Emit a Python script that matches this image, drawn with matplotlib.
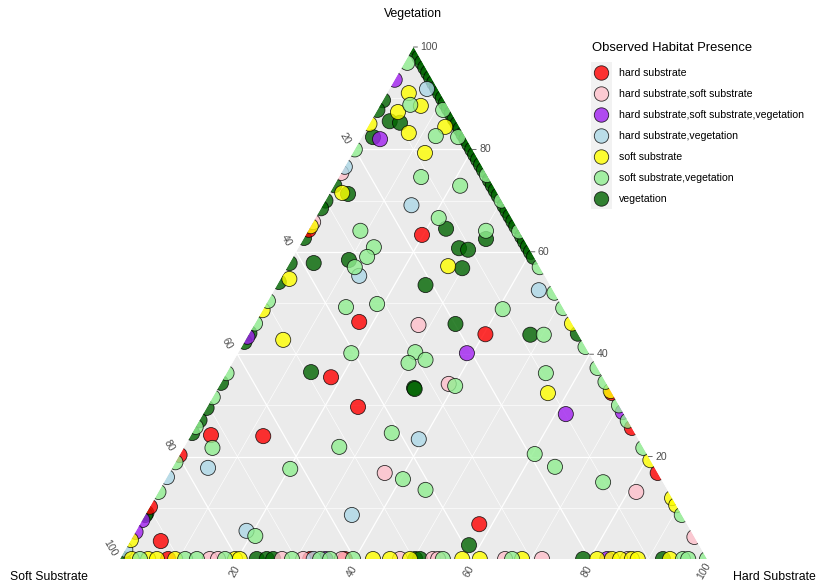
import numpy as np
import matplotlib
matplotlib.use("Agg")
import matplotlib.pyplot as plt
from matplotlib.patches import Polygon, Rectangle, Circle, PathPatch
from matplotlib.path import Path

plt.rcParams['font.family'] = ['Liberation Sans', 'DejaVu Sans']

# ---------------- data (percent: Hard substrate, Vegetation; Soft = 100 - both) -------------
categories = ["hard substrate", "hard substrate,soft substrate",
              "hard substrate,soft substrate,vegetation", "hard substrate,vegetation",
              "soft substrate", "soft substrate,vegetation", "vegetation"]
colors = ["red", "pink", "#A020F0", "lightblue", "yellow", "lightgreen", "darkgreen"]

red_hard = [19.8, 17.6, 40.3, 18.2, 25.7, 3.4, 12.4, 5.2, 57.8, 0, 0, 0, 67.6, 74.4, 83.2, 8.2, 32.4, 38.3]
red_veg = [63.3, 46.3, 43.9, 35.5, 29.7, 24.2, 24.0, 3.5, 6.8, 64.3, 20.3, 10.2, 32.4, 25.6, 16.8, 0, 0, 0]

pink_hard = [28.0, 38.9, 36.7, 81.4, 0, 0, 95.7, 15.3, 16.7, 27.6, 31.2, 37.8, 47.7, 53.3, 54.2, 65.6, 71.9, 86.5]
pink_veg = [45.7, 34.2, 16.8, 13.1, 75.4, 65.8, 4.3, 0, 0, 0, 0, 0, 0, 0, 0, 0, 0, 0]

purple_hard = [39.0, 61.8, 3.3, 0, 0, 0, 0, 71.3, 83.0, 35.0]
purple_veg = [40.2, 28.3, 82.0, 93.6, 43.4, 7.6, 5.3, 28.7, 0, 0]

lblue_hard = [6.4, 15.1, 13.1, 45.1, 39.2, 6.1, 35.2, 18.8, 0, 0, 0, 33.0]
lblue_veg = [91.8, 69.1, 55.3, 52.5, 23.4, 17.8, 8.6, 5.5, 76.6, 16.0, 1.8, 0]

yellow_hard = [3.7, 7.0, 3.7, 7.6, 13.2, 12.3, 2.1, 27.3, 1.5, 6.4, 56.7,
               0, 0, 0, 0,
               54.0, 67.2, 80.7, 88.1, 89.5,
               2.0, 4.8, 6.3, 9.4, 19.6, 20.4, 43.1, 46.0, 49.4, 58.3, 61.3, 68.5,
               81.3, 83.8, 85.2, 87.2, 88.2, 93.7]
yellow_veg = [91.0, 88.5, 87.3, 83.2, 84.4, 79.3, 71.5, 57.2, 54.7, 42.8, 32.4,
              85.0, 65.0, 48.6, 3.7,
              46.0, 32.8, 19.3, 11.9, 10.5,
              0, 0, 0, 0, 0, 0, 0, 0, 0, 0, 0, 0,
              0, 0, 0, 0, 0, 0]

lgreen_hard = [0.5, 5.1, 11.2, 12.5, 16.4, 14.0, 21.5, 21.0, 30.3, 8.9, 12.8, 12.6, 11.5,
               13.9, 18.9, 40.8, 50.3, 19.3, 30.1, 30.0, 32.6, 40.2, 54.4, 4.9, 34.0,
               26.4, 20.2, 40.4, 45.3, 20.8, 60.4, 65.1, 74.8,
               0, 0, 0, 0, 0, 0, 0, 0,
               25.0, 30.0, 36.0, 43.0, 48.0, 51.0, 58.6, 62.7, 65.4, 70.0, 73.0, 78.3, 91.4, 100.0,
               3.4, 11.1, 13.1, 17.9, 29.3, 34.1, 35.8, 39.7, 55.0, 66.8, 95.9, 96.8]
lgreen_veg = [96.9, 88.7, 87.7, 82.6, 82.4, 74.6, 72.9, 66.6, 64.1, 64.1, 60.9, 59.0, 57.0,
              49.2, 49.8, 48.8, 43.8, 40.2, 40.4, 38.3, 38.9, 33.8, 36.3, 21.7, 24.6,
              21.9, 17.6, 15.6, 13.5, 4.5, 20.5, 18.0, 15.0,
              80.0, 50.4, 46.0, 36.3, 31.6, 25.8, 18.9, 13.1,
              75.0, 70.0, 64.0, 57.0, 52.0, 49.0, 41.4, 37.3, 34.6, 30.0, 27.0, 21.7, 8.6, 0,
              0, 0, 0, 0, 0, 0, 0, 0, 0, 0, 0, 0]

dgreen_hard = [3.2, 5.1, 1.9, 3.2, 23.3, 31.1, 27.4, 29.1, 29.9, 25.3, 9.8, 4.1, 34.2, 48.0,
               14.3, 33.4, 33.6, 58.1,
               0, 0, 0, 0, 0, 0, 0, 0, 0, 0, 0, 0, 0, 0, 0, 0,
               0, 1, 2, 3, 4, 5, 6, 7, 8, 9, 10, 11, 12, 13, 14, 15, 16, 17, 18, 19, 20,
               21, 22, 23, 24, 26, 27, 28, 29, 31, 32, 33, 34, 35, 37, 38, 39, 40, 41, 56,
               0.5, 23.3, 25.0, 26.1, 50.3, 51.1, 78.9, 92.5]
dgreen_veg = [85.5, 85.2, 82.4, 71.3, 64.5, 62.5, 60.7, 60.4, 56.8, 53.5, 58.4, 57.8, 45.9, 43.8,
              36.5, 33.4, 33.2, 2.7,
              89.6, 87.7, 73.0, 70.0, 68.5, 62.7, 57.8, 54.1, 44.1, 42.4, 34.4, 29.5, 27.1, 24.6, 9.0, 8.6,
              100, 99, 98, 97, 96, 95, 94, 93, 92, 91, 90, 89, 88, 87, 86, 85, 84, 83, 82, 81, 80,
              79, 78, 77, 76, 74, 73, 72, 71, 69, 68, 67, 66, 65, 63, 62, 61, 60, 59, 44,
              0, 0, 0, 0, 0, 0, 0, 0]

series_hard = [red_hard, pink_hard, purple_hard, lblue_hard, yellow_hard, lgreen_hard, dgreen_hard]
series_veg = [red_veg, pink_veg, purple_veg, lblue_veg, yellow_veg, lgreen_veg, dgreen_veg]

tick_values = [20, 40, 60, 80, 100]
grid_values = [10, 20, 30, 40, 50, 60, 70, 80, 90]

# ---------------- figure ----------------
W, H = 829, 586
fig = plt.figure(figsize=(W / 100, H / 100), dpi=100)
fig.patch.set_facecolor("white")
L0, R0, B0, T0 = 120, 707, 559, 47
ax = fig.add_axes([L0 / W, (H - B0) / H, (R0 - L0) / W, (B0 - T0) / H])
SQ = np.sqrt(3) / 2
ax.set_xlim(0, 100)
ax.set_ylim(0, 100 * SQ)
ax.axis("off")


def cart(h, v):
    h = np.asarray(h, float)
    v = np.asarray(v, float)
    return h + v / 2, v * SQ


tri_verts = [(0, 0), (100, 0), (50, 100 * SQ)]
tri = Polygon(tri_verts, closed=True, facecolor="#EBEBEB", edgecolor="none", zorder=0)
ax.add_patch(tri)
tri_path = Path(tri_verts + [(0, 0)], closed=True)

# grid lines
for g in grid_values:
    lw = 0.9 if g % 20 == 0 else 0.45
    x, y = cart([0, 100 - g], [g, g])
    ax.plot(x, y, color="white", lw=lw, zorder=1)
    x, y = cart([g, g], [0, 100 - g])
    ax.plot(x, y, color="white", lw=lw, zorder=1)
    x, y = cart([100 - g, 0], [0, 100 - g])
    ax.plot(x, y, color="white", lw=lw, zorder=1)

# points (vegetation drawn first), clipped to the triangle
order = [6, 0, 1, 2, 3, 4, 5]
for i in order:
    x, y = cart(series_hard[i], series_veg[i])
    fc = [colors[i]] * len(x)
    sc = ax.scatter(x, y, s=118, c=fc, alpha=0.8, edgecolors=["black"] * len(x),
                    linewidths=0.6, zorder=3)
    sc.set_clip_path(tri_path, ax.transData)

# white mask outside the triangle (guarantees clipping of edge markers)
top = 100 * SQ
mask_verts = [(-40, -20), (140, -20), (140, 110), (-40, 110), (-40, -20),
              (0, 0), (50, top), (100, 0), (0, 0)]
mask_codes = [Path.MOVETO, Path.LINETO, Path.LINETO, Path.LINETO, Path.CLOSEPOLY,
              Path.MOVETO, Path.LINETO, Path.LINETO, Path.CLOSEPOLY]
ax.add_patch(PathPatch(Path(mask_verts, mask_codes), facecolor="white", edgecolor="none",
                       zorder=4, clip_on=False))

# ticks and tick labels
tcol = "#4D4D4D"
for t in tick_values:
    x, y = cart(100 - t, t)
    ax.annotate("", xy=(x, y), xytext=(4, 0), textcoords="offset pixels",
                arrowprops=dict(arrowstyle="-", color=tcol, lw=0.6, shrinkA=0, shrinkB=0),
                annotation_clip=False, zorder=6)
    ax.annotate(str(t), xy=(x, y), xytext=(7, 0), textcoords="offset pixels",
                ha="left", va="center", fontsize=7.6, color=tcol, annotation_clip=False, zorder=6)
    x, y = cart(0, 100 - t)
    ax.annotate(str(t), xy=(x, y), xytext=(-10, 11), textcoords="offset pixels",
                ha="center", va="center", fontsize=7.6, color=tcol, rotation=-60,
                annotation_clip=False, zorder=6)
    x, y = cart(t, 0)
    ax.annotate(str(t), xy=(x, y), xytext=(-3, -12), textcoords="offset pixels",
                ha="center", va="center", fontsize=7.6, color=tcol, rotation=60,
                annotation_clip=False, zorder=6)

# overlay for titles and legend (pixel coordinates)
ov = fig.add_axes([0, 0, 1, 1], zorder=10)
ov.set_xlim(0, W)
ov.set_ylim(H, 0)
ov.axis("off")
ov.patch.set_alpha(0)

ov.text(413, 14, "Vegetation", ha="center", va="center", fontsize=8.8)
ov.text(10, 577, "Soft Substrate", ha="left", va="center", fontsize=8.8)
ov.text(733, 577, "Hard Substrate", ha="left", va="center", fontsize=8.8)

ov.text(592, 48, "Observed Habitat Presence", ha="left", va="center", fontsize=9.4)
ov.add_patch(Rectangle((591, 62), 21, 147, facecolor="#F2F2F2", edgecolor="none"))
for k, (lab, col) in enumerate(zip(categories, colors)):
    yy = 73 + 21 * k
    ov.add_patch(Circle((601.5, yy), 7.2, facecolor=col, alpha=0.8, edgecolor="black", lw=0.6))
    ov.text(619, yy, lab, ha="left", va="center", fontsize=7.6)

fig.savefig("out.png", dpi=100)
